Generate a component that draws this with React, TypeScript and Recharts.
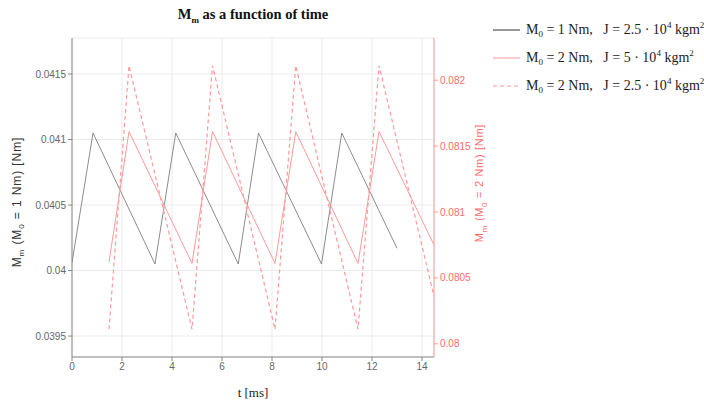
import { LineChart, Line, XAxis, YAxis, CartesianGrid } from 'recharts'

const blackT = [0, 0.84, 3.32, 4.15, 6.65, 7.46, 9.98, 10.79, 13.0]
const blackV = [0.04006, 0.04105, 0.04005, 0.04105, 0.04005, 0.04105, 0.04005, 0.04105, 0.04017]

const redT = [1.48, 2.28, 4.8, 5.62, 8.12, 8.95, 11.44, 12.28, 14.48]
const redSolidV = [0.08062, 0.08161, 0.08061, 0.08161, 0.08061, 0.08161, 0.08061, 0.08161, 0.08075]
const redDashV = [0.08011, 0.08211, 0.08011, 0.08211, 0.08011, 0.08211, 0.08011, 0.08211, 0.08036]

const xTicks = [0, 2, 4, 6, 8, 10, 12, 14]
const leftTicks = [0.0395, 0.04, 0.0405, 0.041, 0.0415]
const rightTicks = [0.08, 0.0805, 0.081, 0.0815, 0.082]

const toPoints = (ts: number[], vs: number[]) => ts.map((t, i) => ({ t, v: vs[i] }))

const blackData = toPoints(blackT, blackV)
const redSolidData = toPoints(redT, redSolidV)
const redDashData = toPoints(redT, redDashV)

const serif = '"Liberation Serif", "Times New Roman", serif'
const sans = '"Liberation Sans", Arial, sans-serif'

function LegendRow({ y, color, dashed, m0, j }: { y: number; color: string; dashed?: boolean; m0: string; j: string }) {
  return (
    <div style={{ position: 'absolute', left: 493, top: y - 9, display: 'flex', alignItems: 'center', whiteSpace: 'nowrap' }}>
      <svg width={27} height={18}>
        <line x1={0} y1={9} x2={27} y2={9} stroke={color} strokeWidth={1} strokeDasharray={dashed ? '4 3' : undefined} />
      </svg>
      <span style={{ marginLeft: 6, fontFamily: serif, fontSize: 14, color: '#222' }}>
        M<sub style={{ fontSize: 9 }}>0</sub> = {m0} Nm,&nbsp;&nbsp;&nbsp;J = {j} · 10<sup style={{ fontSize: 9 }}>4</sup> kgm<sup style={{ fontSize: 9 }}>2</sup>
      </span>
    </div>
  )
}

export default function App() {
  return (
    <div style={{ position: 'absolute', left: 0, top: 0, width: 704, height: 405, background: '#fff', overflow: 'hidden' }}>
      <LineChart width={704} height={405} margin={{ top: 38, right: 220, bottom: 18, left: 12 }}>
        <CartesianGrid yAxisId="left" stroke="#ebebeb" />
        <XAxis
          dataKey="t"
          type="number"
          domain={[0, 14.48]}
          ticks={xTicks}
          allowDataOverflow
          height={30}
          tick={{ fill: '#666', fontSize: 10, fontFamily: sans }}
          tickSize={4}
          stroke="#888"
        />
        <YAxis
          yAxisId="left"
          type="number"
          domain={[0.03934, 0.041775]}
          ticks={leftTicks}
          allowDataOverflow
          width={60}
          tick={{ fill: '#666', fontSize: 10, fontFamily: sans }}
          tickSize={4}
          stroke="#888"
        />
        <YAxis
          yAxisId="right"
          orientation="right"
          type="number"
          domain={[0.0799, 0.08232]}
          ticks={rightTicks}
          allowDataOverflow
          width={50}
          tick={{ fill: '#ff6b6b', fontSize: 10, fontFamily: sans }}
          tickSize={4}
          stroke="#ff9a9a"
        />
        <Line data={blackData} dataKey="v" yAxisId="left" stroke="#8c8c8c" strokeWidth={1} dot={false} isAnimationActive={false} />
        <Line data={redSolidData} dataKey="v" yAxisId="right" stroke="#ff9a9a" strokeWidth={1} dot={false} isAnimationActive={false} />
        <Line data={redDashData} dataKey="v" yAxisId="right" stroke="#ff9a9a" strokeWidth={1.2} strokeDasharray="4 3" dot={false} isAnimationActive={false} />
      </LineChart>

      <div style={{ position: 'absolute', left: 253, top: 6, transform: 'translateX(-50%)', fontFamily: serif, fontWeight: 'bold', fontSize: 14.5, color: '#111', whiteSpace: 'nowrap' }}>
        M<sub style={{ fontSize: 9 }}>m</sub> as a function of time
      </div>

      <div style={{ position: 'absolute', left: 253, top: 385, transform: 'translateX(-50%)', fontFamily: serif, fontSize: 13, color: '#222', whiteSpace: 'nowrap' }}>
        t [ms]
      </div>

      <div style={{ position: 'absolute', left: 18, top: 202, transform: 'translate(-50%, -50%) rotate(-90deg)', fontFamily: sans, fontSize: 12, letterSpacing: 0.9, color: '#333', whiteSpace: 'nowrap' }}>
        M<sub style={{ fontSize: 8 }}>m</sub> (M<sub style={{ fontSize: 8 }}>0</sub> = 1 Nm) [Nm]
      </div>

      <div style={{ position: 'absolute', left: 481, top: 183, transform: 'translate(-50%, -50%) rotate(-90deg)', fontFamily: sans, fontSize: 11, letterSpacing: 0.7, color: '#ff6b6b', whiteSpace: 'nowrap' }}>
        M<sub style={{ fontSize: 8 }}>m</sub> (M<sub style={{ fontSize: 8 }}>0</sub> = 2 Nm) [Nm]
      </div>

      <LegendRow y={29} color="#333" m0="1" j="2.5" />
      <LegendRow y={57} color="#ff9a9a" m0="2" j="5" />
      <LegendRow y={85} color="#ff9a9a" dashed m0="2" j="2.5" />
    </div>
  )
}
